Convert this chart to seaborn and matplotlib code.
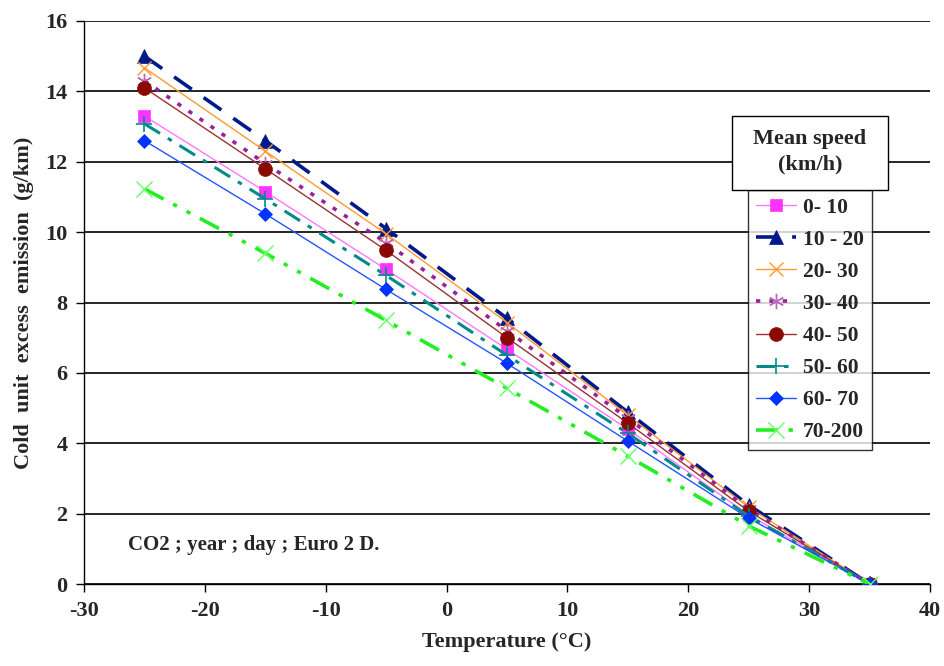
import numpy as np
import pandas as pd
import matplotlib
matplotlib.use("Agg")
import matplotlib.pyplot as plt
import seaborn as sns
from matplotlib.patches import Rectangle

temps = [-25, -15, -5, 5, 15, 25, 35]
speed_0_10 = [13.3, 11.15, 8.94, 6.67, 4.40, 1.96, 0.0]
speed_10_20 = [15.0, 12.6, 10.1, 7.55, 4.88, 2.24, 0.0]
speed_20_30 = [14.67, 12.3, 9.95, 7.43, 4.79, 2.18, 0.0]
speed_30_40 = [14.3, 11.95, 9.7, 7.2, 4.71, 2.13, 0.0]
speed_40_50 = [14.1, 11.8, 9.48, 7.0, 4.57, 2.07, 0.0]
speed_50_60 = [13.08, 10.95, 8.77, 6.5, 4.28, 1.93, 0.0]
speed_60_70 = [12.6, 10.52, 8.37, 6.27, 4.06, 1.87, 0.0]
speed_70_200 = [11.23, 9.4, 7.49, 5.56, 3.63, 1.65, 0.0]

labels = ["0- 10", "10 - 20", "20- 30", "30- 40", "40- 50", "50- 60", "60- 70", "70-200"]
series = [speed_0_10, speed_10_20, speed_20_30, speed_30_40,
          speed_40_50, speed_50_60, speed_60_70, speed_70_200]

styles = [
    dict(color="#FF77FF", lw=1.0, ls="-", marker="s", mfc="#FF33FF", mec="#FF33FF", ms=9),
    dict(color="#001A8C", lw=2.6, ls=(0, (6, 4)), marker="^", mfc="#001A8C", mec="#001A8C", ms=10),
    dict(color="#FF9933", lw=1.0, ls="-", marker="x", mfc="#FF9933", mec="#FF9933", ms=10, mew=1.0),
    dict(color="#992299", lw=2.6, ls=(0, (1.2, 2.5)), marker=(6, 2, 0), mfc="#BB66BB", mec="#BB66BB", ms=11, mew=1.0),
    dict(color="#993333", lw=1.0, ls="-", marker="o", mfc="#8B0A00", mec="#8B0A00", ms=10),
    dict(color="#008B8B", lw=2.2, ls=(0, (6, 3, 1.5, 3)), marker="+", mfc="#008B8B", mec="#008B8B", ms=11, mew=1.2),
    dict(color="#2255FF", lw=1.0, ls="-", marker="D", mfc="#0033FF", mec="#0033FF", ms=7),
    dict(color="#22EE22", lw=2.6, ls=(0, (6, 3, 1.2, 3, 1.2, 3)), marker="x", mfc="#66FF66", mec="#66FF66", ms=11, mew=1.0),
]

sns.set_theme(style="white")
plt.rcParams['font.family'] = ['Liberation Serif', 'DejaVu Serif']
plt.rcParams['font.weight'] = 'bold'
plt.rcParams['axes.unicode_minus'] = False

fig = plt.figure(figsize=(9.45, 6.66), dpi=100)
ax = fig.add_axes([84 / 945, 1 - 584 / 666, (930 - 84) / 945, (584 - 21) / 666])

for lab, vals, st in zip(labels, series, styles):
    sns.lineplot(x=temps, y=vals, ax=ax, label=lab, color=st["color"], linewidth=st["lw"],
                 linestyle=st["ls"], marker=st["marker"], markerfacecolor=st["mfc"],
                 markeredgecolor=st["mec"], markersize=st["ms"],
                 markeredgewidth=st.get("mew", 0.5), zorder=3)

ax.set_xlim(-30, 40)
ax.set_ylim(0, 16)
ax.set_xticks(np.arange(-30, 41, 10))
ax.set_yticks(np.arange(0, 17, 2))
ax.yaxis.grid(True, color="black", lw=1.2)
ax.xaxis.grid(False)
ax.set_axisbelow(True)
for s in ["top", "right"]:
    ax.spines[s].set_visible(False)
for s in ["left", "bottom"]:
    ax.spines[s].set_color("black")
    ax.spines[s].set_linewidth(1.0)
ax.tick_params(axis="both", direction="out", length=6, width=1, color="black",
               labelsize=16, pad=6, left=True, bottom=True)
for t in ax.get_xticklabels() + ax.get_yticklabels():
    t.set_fontweight("bold")

ax.set_xlabel("Temperature (°C)", fontsize=16, fontweight="bold", labelpad=8)
ax.set_ylabel("Cold  unit  excess  emission  (g/km)", fontsize=16, fontweight="bold", labelpad=8)

ax.text(-26.4, 1.1, "CO2 ; year ; day ; Euro 2 D.", fontsize=15, fontweight="bold",
        va="center", ha="left")

# legend title box
fig.patches.append(Rectangle((732 / 945, 1 - 190 / 666), (888 - 732) / 945, (190 - 116) / 666,
                             transform=fig.transFigure, fc="white", ec="black", lw=1.0, zorder=5))
fig.text((732 + 888) / 2 / 945, 1 - 152 / 666, "Mean speed\n(km/h)", ha="center", va="center",
         fontsize=16, fontweight="bold", linespacing=1.35, zorder=10)

leg = ax.legend(loc="upper left", bbox_to_anchor=((748 - 84) / (930 - 84), (584 - 190) / (584 - 21)),
                frameon=True, fancybox=False, edgecolor="black", fontsize=15.5,
                handlelength=1.9, handletextpad=0.3, labelspacing=0.56, borderpad=0.35,
                borderaxespad=0)
leg.get_frame().set_linewidth(1.0)
for t in leg.get_texts():
    t.set_fontweight("bold")

fig.savefig("out.png", dpi=100)
